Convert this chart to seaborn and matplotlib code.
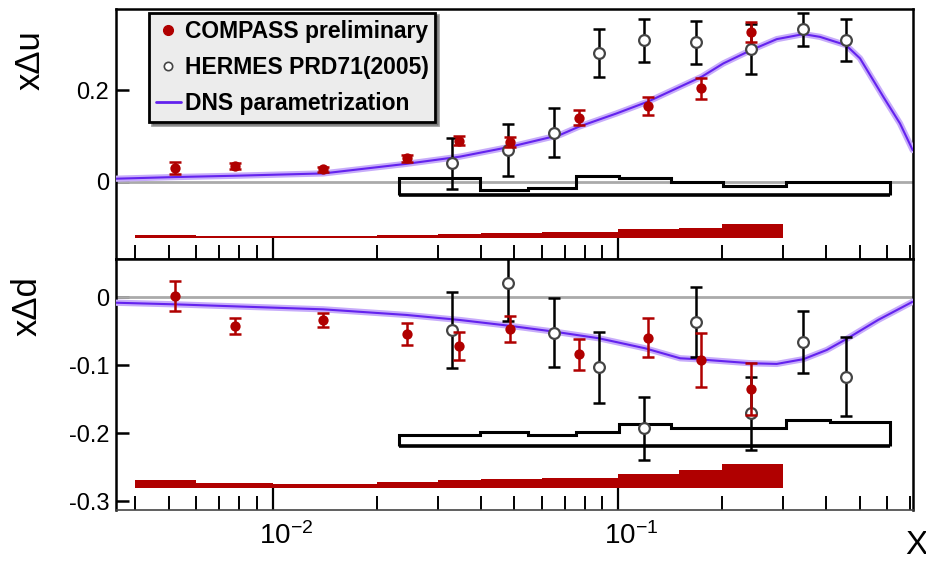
import numpy as np
import pandas as pd
import matplotlib
matplotlib.use("Agg")
import matplotlib.pyplot as plt
import matplotlib.ticker as mticker
import matplotlib.transforms as mtransforms
from matplotlib.lines import Line2D
import seaborn as sns

# ---------------- data ----------------
# COMPASS preliminary
compass_x = [0.0052, 0.0078, 0.014, 0.0244, 0.0347, 0.0486, 0.0769, 0.122, 0.174, 0.242]
compass_u = [0.029, 0.034, 0.027, 0.051, 0.089, 0.087, 0.140, 0.165, 0.204, 0.326]
compass_u_err = [0.013, 0.006, 0.005, 0.008, 0.010, 0.011, 0.016, 0.019, 0.023, 0.022]
compass_d = [0.0024, -0.042, -0.0334, -0.054, -0.0716, -0.0466, -0.0838, -0.0594, -0.0922, -0.135]
compass_d_err = [0.022, 0.012, 0.010, 0.0155, 0.020, 0.0196, 0.0225, 0.029, 0.040, 0.038]

# HERMES PRD71(2005)
hermes_x = [0.033, 0.048, 0.065, 0.088, 0.119, 0.168, 0.242, 0.343, 0.456]
hermes_u = [0.040, 0.069, 0.107, 0.281, 0.309, 0.304, 0.289, 0.333, 0.309]
hermes_u_err = [0.056, 0.057, 0.053, 0.053, 0.047, 0.047, 0.054, 0.036, 0.046]
hermes_d = [-0.048, 0.0215, -0.052, -0.103, -0.1927, -0.0358, -0.1706, -0.0652, -0.1167]
hermes_d_err = [0.056, 0.056, 0.051, 0.052, 0.046, 0.0515, 0.054, 0.0456, 0.058]

# DNS parametrization
dns_x_u = [0.00352, 0.00516, 0.00781, 0.014, 0.0244, 0.0348, 0.0486, 0.0678, 0.0769, 0.0989,
           0.1221, 0.1743, 0.2013, 0.242, 0.2873, 0.3432, 0.3833, 0.4557, 0.5005, 0.5848,
           0.6533, 0.711]
dns_u = [0.0065, 0.010, 0.013, 0.018, 0.039, 0.0546, 0.076, 0.102, 0.120, 0.149,
         0.175, 0.229, 0.258, 0.287, 0.311, 0.322, 0.316, 0.298, 0.269, 0.185,
         0.127, 0.069]
dns_x_d = [0.00352, 0.00516, 0.014, 0.0244, 0.0348, 0.0486, 0.0652, 0.0879, 0.1195, 0.151,
           0.168, 0.242, 0.2873, 0.3432, 0.401, 0.4557, 0.5643, 0.711]
dns_d = [-0.008, -0.0103, -0.0177, -0.026, -0.0334, -0.042, -0.0505, -0.0603, -0.075, -0.0897,
         -0.091, -0.097, -0.098, -0.091, -0.0775, -0.0618, -0.0334, -0.0065]

# systematic bands
hermes_sys_edges_u = [0.0232, 0.0398, 0.0549, 0.0754, 0.1007, 0.142, 0.2013, 0.3056, 0.611]
hermes_sys_top_u = [0.0087, -0.018, -0.013, 0.013, 0.0073, -0.0015, -0.0094, -0.0015]
hermes_sys_base_u = -0.029
hermes_sys_edges_d = [0.0232, 0.0398, 0.0549, 0.0754, 0.1007, 0.142, 0.3056, 0.41, 0.611]
hermes_sys_top_d = [-0.2025, -0.1985, -0.2025, -0.1985, -0.186, -0.1927, -0.180, -0.1838]
hermes_sys_base_d = -0.2187
compass_sys_edges = [0.004, 0.006, 0.01, 0.02, 0.03, 0.04, 0.06, 0.1, 0.15, 0.2, 0.3]
compass_sys_top_u = [-0.1174, -0.1185, -0.1185, -0.1174, -0.1152, -0.112, -0.109, -0.104, -0.1004, -0.093]
compass_sys_base_u = -0.1235
compass_sys_top_d = [-0.2687, -0.2735, -0.275, -0.272, -0.2687, -0.2677, -0.266, -0.260, -0.254, -0.245]
compass_sys_base_d = -0.281

yticks_u = [0, 0.2]
yticklabels_u = ["0", "0.2"]
yticks_d = [0, -0.1, -0.2, -0.3]
yticklabels_d = ["0", "-0.1", "-0.2", "-0.3"]
xticks = [0.01, 0.1]
xticklabels = ["$\\mathregular{10^{-2}}$", "$\\mathregular{10^{-1}}$"]

# ---------------- style ----------------
sns.set_theme(style="ticks")
plt.rcParams["font.family"] = ["Liberation Sans", "DejaVu Sans"]
plt.rcParams["mathtext.fontset"] = "custom"
plt.rcParams["mathtext.rm"] = "Liberation Sans"
for k in ("text.color", "axes.labelcolor", "xtick.color", "ytick.color", "axes.edgecolor"):
    plt.rcParams[k] = "black"

RED = "#b00000"
PURPLE = "#6322ee"
HALO = "#c7acfa"
GRAY0 = "#aaaaaa"

W, H = 926, 562
fig = plt.figure(figsize=(W / 100, H / 100), dpi=100)
L, R = 116, 912.7
ax1 = fig.add_axes([L / W, 1 - 259 / H, (R - L) / W, (259 - 9) / H])
ax2 = fig.add_axes([L / W, 1 - 510 / H, (R - L) / W, (510 - 259) / H])

for ax in (ax1, ax2):
    ax.set_xscale("log")
    ax.set_xlim(0.00352, 0.711)


def draw_panel(ax, cx, cy, cerr, hy, herr, dx, dy, hedges, htop, hbase, ctop, cbase):
    ax.axhline(0, color=GRAY0, lw=2, zorder=1)
    # COMPASS systematic band
    ax.stairs(ctop, compass_sys_edges, baseline=cbase, fill=True, color=RED, lw=0, zorder=2)
    # HERMES systematic outline
    ax.stairs(htop, hedges, baseline=hbase, fill=False, color="black", lw=2.2, zorder=3)
    ax.hlines(hbase, hedges[0], hedges[-1], color="black", lw=2.6, zorder=3)
    # DNS curve
    df = pd.DataFrame({"x": dx, "y": dy})
    sns.lineplot(data=df, x="x", y="y", ax=ax, color=HALO, lw=4.5, sort=False,
                 estimator=None, zorder=4)
    sns.lineplot(data=df, x="x", y="y", ax=ax, color=PURPLE, lw=1.5, sort=False,
                 estimator=None, zorder=5)
    # HERMES points
    ax.errorbar(hermes_x, hy, yerr=herr, fmt="none", ecolor="black", elinewidth=1.8,
                capsize=4.6, capthick=1.8, zorder=6)
    sns.scatterplot(x=hermes_x, y=hy, ax=ax, marker="o", s=60, facecolor="white",
                    edgecolor="#444444", linewidth=1.6, zorder=7)
    # COMPASS points
    ax.errorbar(cx, cy, yerr=cerr, fmt="none", ecolor=RED, elinewidth=1.8,
                capsize=4.2, capthick=1.8, zorder=8)
    sns.scatterplot(x=cx, y=cy, ax=ax, marker="o", s=55, color=RED, edgecolor=RED,
                    linewidth=0, zorder=9)
    ax.set_xlabel("")
    ax.set_ylabel("")


draw_panel(ax1, compass_x, compass_u, compass_u_err, hermes_u, hermes_u_err,
           dns_x_u, dns_u, hermes_sys_edges_u, hermes_sys_top_u, hermes_sys_base_u,
           compass_sys_top_u, compass_sys_base_u)
draw_panel(ax2, compass_x, compass_d, compass_d_err, hermes_d, hermes_d_err,
           dns_x_d, dns_d, hermes_sys_edges_d, hermes_sys_top_d, hermes_sys_base_d,
           compass_sys_top_d, compass_sys_base_d)

ax1.set_ylim(-0.1687, 0.3768)
ax2.set_ylim(-0.3128, 0.0563)

for ax in (ax1, ax2):
    ax.set_xlim(0.00352, 0.711)
    ax.xaxis.set_major_locator(mticker.FixedLocator(xticks))
    ax.xaxis.set_minor_locator(mticker.LogLocator(base=10, subs=np.arange(2, 10), numticks=20))
    ax.xaxis.set_minor_formatter(mticker.NullFormatter())
    ax.tick_params(axis="x", which="major", direction="in", length=16, width=1.6,
                   top=False, bottom=True, color="black")
    ax.tick_params(axis="x", which="minor", direction="in", length=10, width=1.4,
                   top=False, bottom=True, color="black")
    ax.tick_params(axis="y", which="major", direction="in", length=9, width=1.8,
                   left=True, right=False, labelsize=17, pad=5, color="black",
                   labelcolor="black")
    ax.tick_params(axis="y", which="minor", left=False, right=False)
    for s in ax.spines.values():
        s.set_linewidth(1.8)
        s.set_color("black")

ax1.set_yticks(yticks_u)
ax1.set_yticklabels(yticklabels_u)
ax2.set_yticks(yticks_d)
ax2.set_yticklabels(yticklabels_d)
ax1.set_xticklabels([])
ax2.set_xticks(xticks)
ax2.set_xticklabels(xticklabels)
ax2.tick_params(axis="x", which="major", labelsize=20, pad=9, labelcolor="black")
ax2.spines["bottom"].set_color("#444444")
ax2.spines["bottom"].set_linewidth(1.2)

offset = mtransforms.ScaledTranslation(13 / 100, 0, fig.dpi_scale_trans)
for lbl in ax2.get_xticklabels():
    lbl.set_transform(lbl.get_transform() + offset)

# axis titles
fig.text(30 / W, 1 - 60 / H, "x\u0394u", rotation=90, ha="center", va="center", fontsize=25)
fig.text(27 / W, 1 - 306 / H, "x\u0394d", rotation=90, ha="center", va="center", fontsize=25)
fig.text(916 / W, 1 - 545 / H, "X", ha="center", va="center", fontsize=24)

# legend
handles = [
    Line2D([], [], marker="o", color=RED, ls="none", ms=7),
    Line2D([], [], marker="o", mfc="white", mec="#444444", mew=1.2, ls="none", ms=6),
    Line2D([], [], color=PURPLE, lw=2),
]
labels = ["COMPASS preliminary", "HERMES PRD71(2005)", "DNS parametrization"]
leg = ax1.legend(handles, labels, loc="upper left",
                 bbox_to_anchor=(149 / W, 1 - 12.7 / H), bbox_transform=fig.transFigure,
                 borderaxespad=0, frameon=True, fancybox=False, shadow=True,
                 facecolor="#ececec", edgecolor="black", framealpha=1,
                 prop={"weight": "bold", "size": 16.5}, handlelength=1.1, handletextpad=0.15,
                 borderpad=0.3, labelspacing=0.58)
leg.get_frame().set_linewidth(2)
leg.set_zorder(20)
for t in leg.get_texts():
    t.set_color("black")

fig.savefig("out.png", dpi=100)
